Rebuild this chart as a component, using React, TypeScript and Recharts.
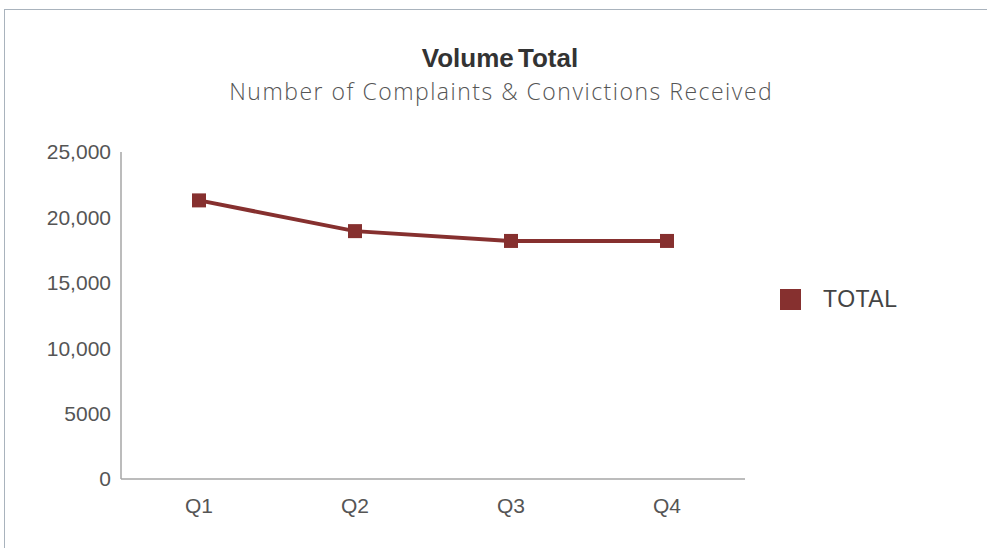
import React from "react";
import { LineChart, Line, XAxis, YAxis } from "recharts";

const quarters = ["Q1", "Q2", "Q3", "Q4"];
const totals = [21300, 18950, 18200, 18200];
const yTicks = [0, 5000, 10000, 15000, 20000, 25000];
const seriesName = "TOTAL";

const data = quarters.map((q, i) => ({ q, total: totals[i] }));

const COLOR = "#86302f";
const FONT = "'Liberation Sans', Arial, sans-serif";

const SquareDot = (props: any) => {
  const { cx, cy } = props;
  if (cx == null || cy == null) return null;
  return <rect x={cx - 7} y={cy - 7} width={14} height={14} fill={COLOR} />;
};

const fmt = (v: number) => (v >= 10000 ? v.toLocaleString("en-US") : String(v));

export default function App() {
  return (
    <div style={{ position: "absolute", left: 0, top: 0, width: 987, height: 548, background: "#fff" }}>
      <div
        style={{
          position: "absolute",
          left: 4,
          top: 9,
          width: 983,
          height: 539,
          borderTop: "1.5px solid #a9b3bd",
          borderLeft: "1.5px solid #a9b3bd",
        }}
      />
      <div
        style={{
          position: "absolute",
          left: 0,
          width: 1000,
          top: 43,
          lineHeight: "30px",
          textAlign: "center",
          fontFamily: FONT,
          fontWeight: 700,
          fontSize: 26,
          color: "#333",
          wordSpacing: -3,
          letterSpacing: 0,
        }}
      >
        Volume Total
      </div>
      <div
        style={{
          position: "absolute",
          left: 0,
          width: 1001,
          paddingLeft: 1.5,
          boxSizing: "border-box",
          top: 76,
          lineHeight: "30px",
          textAlign: "center",
          fontFamily: "'Open Sans', Roboto, sans-serif",
          fontWeight: 300,
          fontSize: 23,
          letterSpacing: 1.5,
          color: "#555",
        }}
      >
        Number of Complaints &amp; Convictions Received
      </div>
      <div
        style={{
          position: "absolute",
          left: 780,
          top: 289,
          display: "flex",
          alignItems: "center",
          fontFamily: FONT,
        }}
      >
        <div style={{ width: 21, height: 21, background: COLOR }} />
        <span style={{ marginLeft: 22, fontSize: 23, color: "#444", lineHeight: "21px", letterSpacing: 0.5 }}>{seriesName}</span>
      </div>
      <LineChart
        width={987}
        height={548}
        data={data}
        margin={{ top: 152, right: 242, bottom: 29, left: 0 }}
        style={{ position: "absolute", left: 0, top: 0 }}
      >
        <XAxis
          dataKey="q"
          axisLine={{ stroke: "#a6a6a6", strokeWidth: 1.5 }}
          tickLine={false}
          padding={{ left: 78, right: 78 }}
          tick={{ fill: "#555", fontSize: 21, fontFamily: FONT }}
          tickMargin={13}
          height={40}
        />
        <YAxis
          domain={[0, 25000]}
          ticks={yTicks}
          tickFormatter={fmt}
          axisLine={{ stroke: "#a6a6a6", strokeWidth: 1.5 }}
          tickLine={false}
          tick={{ fill: "#555", fontSize: 21, fontFamily: FONT }}
          tickMargin={4}
          width={121}
          interval={0}
        />
        <Line
          dataKey="total"
          name={seriesName}
          stroke={COLOR}
          strokeWidth={4}
          dot={<SquareDot />}
          activeDot={false}
          isAnimationActive={false}
        />
      </LineChart>
    </div>
  );
}
